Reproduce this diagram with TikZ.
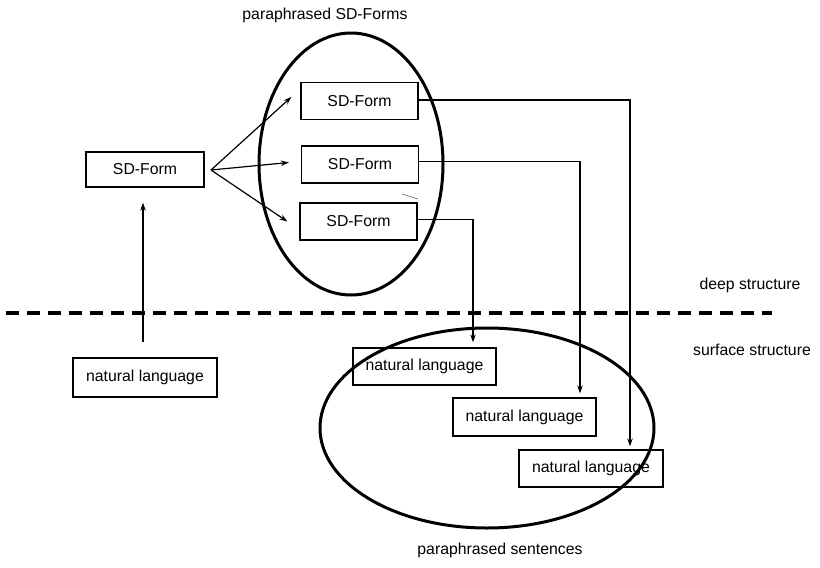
\documentclass[tikz,border=0pt]{standalone}
\usepackage{fontspec}
\setmainfont{Liberation Sans}
\usetikzlibrary{arrows.meta}

\tikzset{
  box/.style={draw, line width=1.3pt, inner sep=0pt, align=center},
  sdbox/.style={box, minimum width=117pt, minimum height=37pt},
  nlbox/.style={box, minimum width=144pt, minimum height=38pt},
  conn/.style={line width=1.2pt, -{Stealth[length=8pt,width=5.5pt]}},
  group/.style={line width=3pt},
  level/.style={line width=4pt, dash pattern=on 13pt off 8pt},
  caption/.style={inner sep=0pt}
}

\begin{document}
\begin{tikzpicture}[x=1pt,y=-1pt, font=\fontsize{15.8}{18}\selectfont]
\useasboundingbox (0,0) rectangle (820,568);

% deep / surface boundary
\draw[level] (6,313) -- (772,313);

% SD-Forms
\node[sdbox, minimum width=118pt, minimum height=35pt] (lsd) at (145,169.5) {SD-Form};
\node[sdbox] (sd1) at (359.5,101) {SD-Form};
\node[sdbox] (sd2) at (360,164.5) {SD-Form};
\node[sdbox] (sd3) at (358.5,221.5) {SD-Form};

% natural language sentences
\node[nlbox, minimum height=39pt] (lnl) at (145,377.5) {natural language};
\node[nlbox, minimum width=143pt, minimum height=37pt] (nl1) at (424.5,366.5) {natural language};
\node[nlbox, minimum width=143pt] (nl2) at (524.5,417) {natural language};
\node[nlbox, minimum height=37pt] (nl3) at (591,468.5) {natural language};

% groupings
\draw[group] (351,164) ellipse [x radius=92pt, y radius=131pt];
\draw[group] (487,428) ellipse [x radius=167pt, y radius=100pt];

% labels
\node[caption] (lpsd) at (325,15) {paraphrased SD-Forms};
\node[caption] (ldeep) at (750,285) {deep structure};
\node[caption] (lsurf) at (752,350) {surface structure};
\node[caption] (lpsent) at (500,550) {paraphrased sentences};

% analysis: natural language up to SD-Form
\draw[conn, shorten <=15pt, shorten >=15pt] ([xshift=-2pt]lnl.north) -- ([xshift=-2pt]lsd.south);

% paraphrasing fan
\coordinate (fan) at (211,170);
\draw[conn] (fan) -- ([xshift=-9pt,yshift=4pt]sd1.west);
\draw[conn] (fan) -- ([xshift=-12pt,yshift=2pt]sd2.west);
\draw[conn] (fan) -- ([xshift=-12pt]sd3.west);

% generation: SD-Forms down to sentences
\draw[conn, shorten >=3pt] ([yshift=1pt]sd1.east) -| ([xshift=39pt]nl3.north);
\draw[conn, shorten >=4pt] ([yshift=3pt]sd2.east) -| ([xshift=55.5pt]nl2.north);
\draw[conn, shorten >=5pt] ([yshift=2pt]sd3.east) -| ([xshift=48.5pt]nl1.north);

% small stray tick
\draw[line width=0.6pt, black!60] (402,194) -- (418,199);
\end{tikzpicture}
\end{document}
